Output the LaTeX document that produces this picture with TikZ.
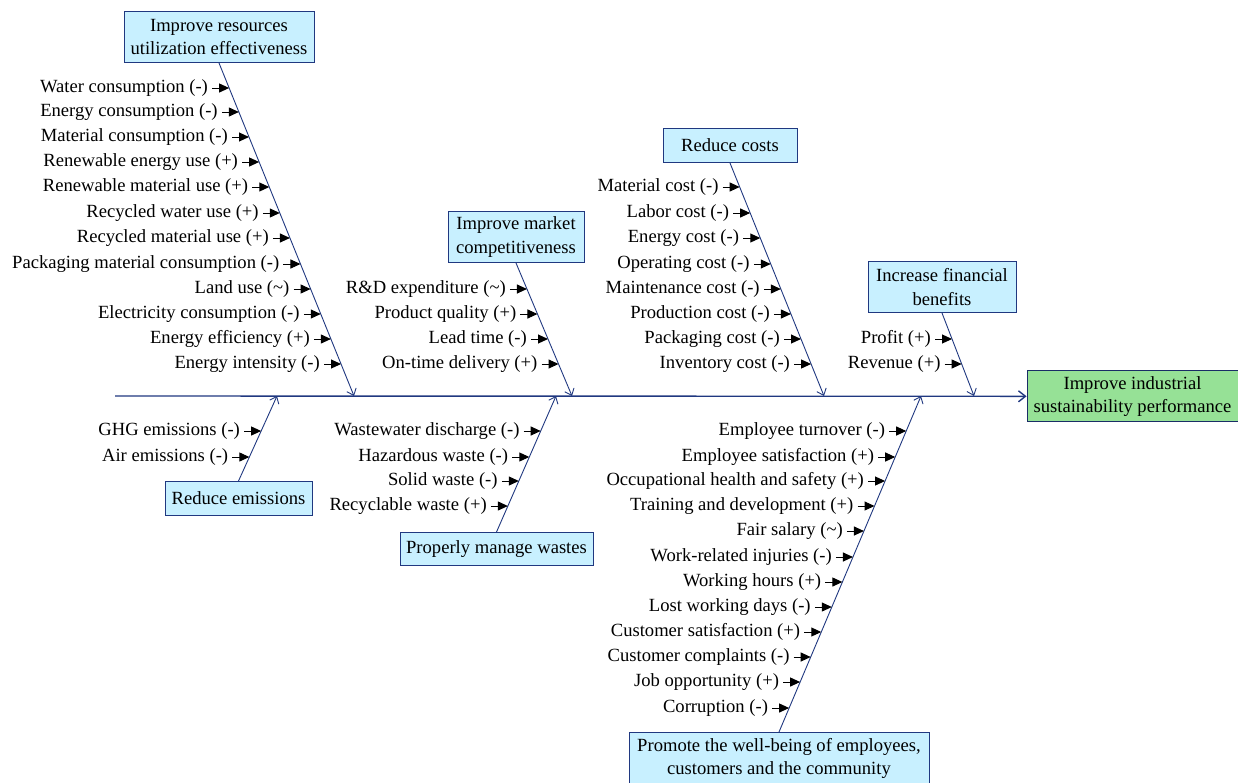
\documentclass[tikz,border=0pt]{standalone}
\usepackage{fontspec}
\setmainfont{Liberation Serif}
\usetikzlibrary{arrows.meta,calc}
\definecolor{navy}{RGB}{32,56,128}
\definecolor{boxblue}{RGB}{200,240,255}
\definecolor{boxgreen}{RGB}{150,225,150}
\newcommand\ribs[5]{%
  \foreach \yy/\lbl [count=\i] in {#5} {
    \pgfmathsetmacro\f{(\yy-#3)/(396-#3)}
    \coordinate (#1-t\i) at ($(#2)!\f!(#4)$);
    \node[lab] (#1-l\i) at ([xshift=-17pt]#1-t\i) {\lbl};
    \draw[tick] (#1-l\i.east) -- (#1-t\i);
  }}
\begin{document}
\begin{tikzpicture}[x=1pt,y=-1pt,
  font=\rmfamily\fontsize{18.6}{23.5}\selectfont,
  cat/.style={draw=navy, fill=boxblue, align=center, inner sep=0pt, line width=0.9pt},
  goal/.style={draw=navy!80!black, fill=boxgreen, align=center, inner sep=0pt, line width=0.9pt},
  bone/.style={draw=navy, line width=0.9pt, -{Straight Barb[length=6pt,width=10pt]}},
  spine/.style={draw=navy, line width=1.4pt, -{Straight Barb[length=7pt,width=11pt]}},
  lab/.style={anchor=east, inner xsep=4pt, inner ysep=0pt},
  tick/.style={line width=1pt, -{Triangle[length=10pt,width=9pt]}}]
\useasboundingbox (0,0) rectangle (1238,782);

% head and spine
\node[goal, minimum width=211, minimum height=51] (g) at (1132.5,396.3) {Improve industrial\\sustainability performance};
\coordinate (s0) at (115,396);
\draw[spine] (s0) -- (g.west);

% spine joints
\coordinate (s1) at (354,396);
\coordinate (s2) at (277,396);
\coordinate (s3) at (572,396);
\coordinate (s4) at (556,396);
\coordinate (s5) at (824,396);
\coordinate (s6) at (974,396);
\coordinate (s7) at (921,396);

% category boxes
\node[cat, anchor=south, minimum width=190, minimum height=51] (c1) at (219,63) {Improve resources\\utilization effectiveness};
\node[cat, anchor=north, minimum width=147, minimum height=34] (c2) at (238.5,481) {Reduce emissions};
\node[cat, anchor=south, minimum width=136, minimum height=51] (c3) at (516,263) {Improve market\\competitiveness};
\node[cat, anchor=north, minimum width=193, minimum height=33] (c4) at (496.5,532) {Properly manage wastes};
\node[cat, anchor=south, minimum width=134, minimum height=34] (c5) at (730,163) {Reduce costs};
\node[cat, anchor=south, minimum width=148, minimum height=51] (c6) at (942,313) {Increase financial\\benefits};
\node[cat, anchor=north, minimum width=300, minimum height=52] (c7) at (779,732) {Promote the well-being of employees,\\customers and the community};

% bones
\draw[bone] (c1.south) -- (s1);
\draw[bone] (c2.north) -- (s2);
\draw[bone] (c3.south) -- (s3);
\draw[bone] (c4.north) -- (s4);
\draw[bone] (c5.south) -- (s5);
\draw[bone] (c6.south) -- (s6);
\draw[bone] (c7.north) -- (s7);

% ribs
\ribs{r1}{c1.south}{63}{s1}{88/Water consumption (-), 112/Energy consumption (-), 137/Material consumption (-), 162/Renewable energy use (+), 187/Renewable material use (+), 213/Recycled water use (+), 238/Recycled material use (+), 264/Packaging material consumption (-), 289/Land use (\textasciitilde), 314/Electricity consumption (-), 339/Energy efficiency (+), 364/Energy intensity (-)}
\ribs{r2}{c2.north}{481}{s2}{431/GHG emissions (-), 457/Air emissions (-)}
\ribs{r3}{c3.south}{263}{s3}{289/R\&D expenditure (\textasciitilde), 314/Product quality (+), 339/Lead time (-), 364/On-time delivery (+)}
\ribs{r4}{c4.north}{532}{s4}{431/Wastewater discharge (-), 457/Hazardous waste (-), 481/Solid waste (-), 506/Recyclable waste (+)}
\ribs{r5}{c5.south}{163}{s5}{187/Material cost (-), 213/Labor cost (-), 238/Energy cost (-), 264/Operating cost (-), 289/Maintenance cost (-), 314/Production cost (-), 339/Packaging cost (-), 364/Inventory cost (-)}
\ribs{r6}{c6.south}{313}{s6}{339/Profit (+), 364/Revenue (+)}
\ribs{r7}{c7.north}{732}{s7}{431/Employee turnover (-), 457/Employee satisfaction (+), 481/Occupational health and safety (+), 506/Training and development (+), 531/Fair salary (\textasciitilde), 557/Work-related injuries (-), 582/Working hours (+), 607/Lost working days (-), 632/Customer satisfaction (+), 657/Customer complaints (-), 682/Job opportunity (+), 708/Corruption (-)}
\end{tikzpicture}
\end{document}
